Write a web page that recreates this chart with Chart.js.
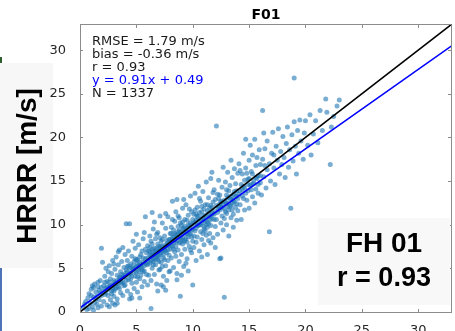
<!DOCTYPE html>
<html>
<head>
<meta charset="utf-8">
<title>F01 scatter</title>
<script src="https://cdn.jsdelivr.net/npm/chart.js@4.4.1/dist/chart.umd.min.js"></script>
<style>
    html, body { margin: 0; padding: 0; background: #fff; }
    #wrap { position: relative; width: 455px; height: 331px; overflow: hidden; }
    #scatterChart { position: absolute; left: 0; top: 0; }
</style>
</head>
<body>
<div id="wrap"><canvas id="scatterChart" width="456" height="331"></canvas></div>
<script>
// --- Data ---
const panelTitle = 'F01';
const yAxisLabel = 'HRRR [m/s]';
const badgeLines = ['FH 01', 'r = 0.93'];
const statLines = ['RMSE = 1.79 m/s', 'bias = -0.36 m/s', 'r = 0.93', 'y = 0.91x + 0.49', 'N = 1337'];
const axisMax = 33;
const tickValues = [0, 5, 10, 15, 20, 25, 30];
const fitSlope = 0.91;
const fitIntercept = 0.49;

const obsVsHrrr = [
    [0.3,0.5],[0.5,1.2],[0.6,0.3],[0.8,2.1],[0.9,1.0],[1.0,2.6],[1.1,0.6],[1.2,1.7],[1.3,3.2],[1.4,2.3],
    [1.5,0.9],[1.5,1.8],[1.6,2.9],[1.7,1.4],[1.8,3.6],[1.8,2.2],[1.9,0.7],[1.9,2.8],[0.7,1.6],[1.0,1.9],
    [1.2,2.8],[1.3,1.1],[1.6,3.4],[1.7,2.5],[0.4,0.9],[1.1,3.0],[1.4,1.5],[1.9,1.9],[0.8,0.4],[1.2,0.2],
    [1.6,0.5],
    [2.0,5.7],[1.9,7.3],[2.1,1.2],[2.1,3.0],[2.2,2.0],[2.2,4.1],[2.3,2.7],[2.4,0.8],[2.4,3.5],[2.5,1.9],
    [2.5,4.6],[2.6,2.9],[2.6,5.3],[2.7,1.4],[2.7,3.8],[2.8,2.4],[2.8,4.4],[2.9,3.1],[2.9,5.9],[3.0,1.8],
    [3.0,3.6],[3.1,2.6],[3.1,4.9],[3.2,3.2],[3.2,6.3],[3.3,1.5],[3.3,4.2],[3.4,2.9],[3.4,5.4],[3.5,3.7],
    [3.5,7.1],[3.6,2.2],[3.6,4.6],[3.7,3.3],[3.7,5.8],[3.8,4.0],[3.8,1.9],[3.9,5.1],[3.9,3.0],[4.0,6.6],
    [2.3,5.0],[2.6,0.6],[3.0,5.5],[3.4,6.9],[3.8,7.4],[2.9,1.0],[3.6,3.9],[2.2,3.4],[3.1,0.8],[3.3,1.0],
    [2.1,2.4],[2.3,2.2],[2.4,2.9],[2.5,2.6],[2.7,3.0],[2.8,2.1],[2.9,2.7],[3.0,3.1],[3.1,3.4],[3.2,2.8],
    [3.3,3.6],[3.4,3.3],[3.5,4.0],[3.6,3.5],[3.7,4.3],[3.8,3.4],[3.9,4.2],[2.6,3.4],[3.0,2.4],[3.5,2.7],
    [4.1,10.1],[4.4,10.1],[5.8,10.9],[4.0,3.1],[4.1,4.8],[4.2,2.4],[4.2,5.9],[4.3,3.7],[4.3,7.0],[4.4,4.4],
    [4.5,2.0],[4.5,5.5],[4.6,3.3],[4.6,6.4],[4.7,4.9],[4.7,8.1],[4.8,2.7],[4.8,5.8],[4.9,4.1],[4.9,7.3],
    [5.0,3.4],[5.0,5.2],[5.1,6.0],[5.1,2.3],[5.2,4.6],[5.2,7.7],[5.3,3.8],[5.3,5.7],[5.4,6.6],[5.4,4.2],
    [5.5,2.9],[5.5,5.1],[5.6,8.4],[5.6,6.2],[5.7,4.7],[5.7,3.5],[5.8,5.6],[5.8,7.2],[5.9,4.3],[5.9,6.8],
    [6.0,3.1],[6.0,5.4],[4.4,1.5],[5.0,8.9],[5.3,1.6],[4.6,5.0],[5.5,7.0],[4.9,6.1],[5.2,5.3],[4.3,5.3],
    [5.7,9.1],[4.0,4.4],[5.1,4.0],[4.6,1.6],
    [4.0,4.0],[4.1,3.6],[4.2,4.6],[4.3,4.2],[4.4,5.0],[4.5,4.4],[4.6,4.1],[4.7,5.3],[4.8,4.6],[4.9,5.0],
    [5.0,4.5],[5.1,5.5],[5.2,4.9],[5.3,5.1],[5.4,5.4],[5.5,4.8],[5.6,5.7],[5.7,5.3],[5.8,6.1],[5.9,5.5],
    [4.5,3.8],[5.0,6.0],[5.6,4.6],[4.2,5.2],[5.3,6.3],
    [6.3,0.4],[6.1,4.2],[6.1,7.0],[6.2,5.6],[6.2,8.7],[6.3,3.6],[6.3,6.4],[6.4,7.8],[6.4,5.0],[6.5,9.5],
    [6.5,6.1],[6.6,4.3],[6.6,7.3],[6.7,5.4],[6.7,8.4],[6.8,6.8],[6.8,3.2],[6.9,6.0],[6.9,9.1],[7.0,7.5],
    [7.0,4.8],[7.1,4.9],[7.1,6.6],[7.2,8.1],[7.2,5.7],[7.3,10.2],[7.3,7.0],[7.4,4.1],[7.4,6.2],[7.5,8.7],
    [7.5,7.4],[7.6,5.3],[7.6,9.6],[7.7,6.8],[7.7,3.6],[7.8,7.9],[7.8,5.9],[7.9,8.3],[7.9,6.5],[8.0,4.7],
    [8.0,9.0],[6.4,11.4],[6.9,2.4],[7.1,11.0],[7.4,2.9],[6.6,10.3],[7.8,10.9],[7.2,3.1],[6.2,6.9],[6.7,7.0],
    [7.0,6.3],[7.3,5.2],[7.6,7.7],[6.5,5.4],[7.9,4.6],[6.8,8.9],[7.5,6.0],[6.0,7.6],[7.1,8.5],[6.3,8.1],
    [7.6,11.3],[7.6,2.5],[6.6,6.6],[7.4,7.2],[6.9,7.8],
    [6.0,6.2],[6.1,5.8],[6.2,6.5],[6.3,5.9],[6.4,6.6],[6.5,6.9],[6.6,6.0],[6.7,6.3],[6.8,7.3],[6.9,6.5],
    [7.0,7.0],[7.1,7.3],[7.2,6.8],[7.3,7.6],[7.4,6.6],[7.5,7.1],[7.6,7.0],[7.7,7.6],[7.8,7.2],[7.9,7.7],
    [6.2,7.4],[6.5,5.8],[7.0,5.8],[7.3,8.3],[7.7,8.2],[6.8,6.2],[7.2,7.5],[6.4,7.2],
    [8.1,6.2],[8.1,9.7],[8.2,12.7],[8.2,7.5],[8.3,5.1],[8.3,8.6],[8.4,10.4],[8.4,6.9],[8.5,8.0],[8.5,11.5],
    [8.6,12.9],[8.6,4.4],[8.6,3.7],[8.7,9.2],[8.7,7.1],[8.8,10.8],[8.8,5.8],[8.9,1.8],[8.9,8.5],[9.0,6.6],
    [9.0,9.9],[9.1,11.9],[9.1,7.8],[9.2,5.2],[9.2,9.1],[9.3,10.6],[9.3,7.2],[9.4,8.4],[9.4,12.3],[9.5,6.1],
    [9.5,9.6],[9.6,11.1],[9.6,4.7],[9.7,8.9],[9.7,7.5],[9.8,10.2],[9.8,13.3],[9.9,6.8],[9.9,9.4],[10.0,3.1],
    [10.0,8.1],[8.3,9.4],[8.7,11.0],[9.0,8.3],[9.3,8.9],[9.6,10.0],[8.5,6.4],[8.9,10.2],[9.2,12.9],[9.8,7.1],
    [8.1,8.1],[9.5,8.0],[8.4,9.0],[9.1,9.5],[9.7,11.8],[8.8,7.9],[9.4,5.6],[9.9,11.5],[8.2,10.6],[9.0,4.2],
    [8.6,8.8],[9.2,8.1],[8.0,7.2],[9.6,9.2],[8.9,9.1],
    [8.0,8.3],[8.1,7.6],[8.2,8.5],[8.3,7.9],[8.4,8.3],[8.5,8.9],[8.6,8.2],[8.7,8.6],[8.8,9.3],[8.9,8.0],
    [9.0,8.9],[9.1,8.5],[9.2,9.6],[9.3,8.2],[9.4,9.3],[9.5,9.0],[9.6,8.6],[9.7,9.8],[9.8,9.0],[9.9,10.0],
    [8.3,7.2],[8.7,9.8],[9.1,10.3],[9.5,10.5],[9.9,8.6],[8.5,7.5],[9.3,9.8],[8.1,9.0],
    [10.1,11.2],[10.1,7.4],[10.2,9.3],[10.2,13.6],[10.3,5.9],[10.3,10.5],[10.4,12.0],[10.4,8.6],[10.5,9.9],[10.5,14.4],
    [10.6,7.0],[10.6,11.4],[10.7,10.0],[10.7,12.7],[10.8,8.3],[10.8,6.3],[10.9,11.0],[10.9,13.8],[11.0,9.5],[11.0,7.7],
    [11.1,12.3],[11.1,10.4],[11.2,14.9],[11.2,8.8],[11.3,11.6],[11.3,6.6],[11.4,10.1],[11.4,13.1],[11.5,9.0],[11.5,11.9],
    [11.6,7.9],[11.6,15.3],[11.7,16.0],[11.7,10.7],[11.8,12.6],[11.8,8.5],[11.9,11.2],[11.9,14.0],[12.0,9.8],[12.0,12.9],
    [12.1,21.3],[10.3,8.0],[10.7,9.2],[11.0,11.8],[11.3,9.7],[11.6,12.2],[10.4,10.9],[10.9,9.0],[11.5,10.5],[12.0,7.4],
    [10.2,11.7],[10.6,13.0],[11.2,10.0],[11.8,13.7],[10.8,12.1],[11.4,8.2],[10.5,10.4],[11.1,9.3],[11.7,11.4],[10.0,10.6],
    [10.0,9.5],[10.1,10.1],[10.2,10.3],[10.3,9.6],[10.4,9.9],[10.5,11.0],[10.6,10.0],[10.7,10.6],[10.8,10.2],[10.9,10.7],
    [11.0,10.5],[11.1,11.1],[11.2,10.8],[11.3,10.3],[11.4,11.3],[11.5,10.9],[11.6,11.0],[11.7,12.0],[11.8,11.3],[11.9,10.6],
    [10.3,11.2],[10.8,11.5],[11.3,12.3],[11.6,9.9],[10.1,8.7],[11.0,9.8],
    [12.1,10.6],[12.2,13.5],[12.2,8.9],[12.3,11.8],[12.3,15.1],[12.4,6.1],[12.4,12.4],[12.5,6.2],[12.5,10.2],[12.6,14.3],
    [12.6,11.0],[12.7,16.6],[12.7,9.4],[12.8,1.7],[12.8,12.8],[12.9,11.5],[12.9,14.9],[13.0,10.0],[13.0,13.4],[13.1,12.1],
    [13.1,16.0],[13.2,8.7],[13.2,11.7],[13.3,14.5],[13.3,13.0],[13.4,10.8],[13.4,17.4],[13.5,12.5],[13.5,15.4],[13.6,11.2],
    [13.6,9.7],[13.7,13.8],[13.7,16.4],[13.8,12.0],[13.8,14.7],[13.9,10.5],[13.9,13.3],[14.0,15.9],[14.0,11.6],[12.3,13.0],
    [12.8,10.7],[13.2,13.9],[13.6,12.8],[12.5,12.0],[13.0,11.3],[13.9,12.4],[12.6,12.6],[13.4,12.2],
    [12.0,11.6],[12.1,12.2],[12.2,11.4],[12.3,12.1],[12.4,11.7],[12.5,12.7],[12.6,12.0],[12.7,12.3],[12.8,11.8],[12.9,12.6],
    [13.0,12.4],[13.1,13.1],[13.2,12.5],[13.3,12.1],[13.4,13.3],[13.5,12.9],[13.6,13.5],[13.7,12.6],[13.8,13.2],[13.9,13.9],
    [12.4,13.4],[13.0,14.0],[13.5,11.7],
    [14.1,13.5],[14.1,17.0],[14.2,12.3],[14.3,14.6],[14.3,10.6],[14.4,15.8],[14.5,13.0],[14.5,18.2],[14.6,11.7],[14.6,14.2],
    [14.7,19.8],[14.7,16.5],[14.8,12.8],[14.9,15.2],[14.9,13.9],[15.0,17.4],[15.0,11.9],[15.1,19.1],[15.1,14.5],[15.2,16.1],
    [15.3,13.2],[15.3,18.0],[15.4,15.0],[15.5,19.8],[15.5,12.5],[15.6,16.8],[15.6,14.1],[15.7,17.7],[15.8,13.6],[15.8,15.6],
    [15.9,18.6],[16.0,14.8],[16.0,16.9],[14.4,14.0],[15.2,14.6],[14.8,15.9],[15.7,15.3],[14.2,16.2],
    [14.0,13.0],[14.2,13.9],[14.4,13.3],[14.5,14.4],[14.7,13.6],[14.9,14.6],[15.0,15.3],[15.2,14.0],[15.4,14.7],[15.6,15.4],
    [15.8,14.6],[16.0,15.6],[14.6,15.1],[15.3,15.8],
    [16.1,13.4],[16.2,23.1],[16.2,17.5],[16.3,20.5],[16.3,15.5],[16.4,18.7],[16.5,14.2],[16.6,16.3],[16.6,19.6],[16.8,9.2],
    [16.8,17.0],[16.9,15.0],[17.0,18.2],[17.1,20.6],[17.2,16.5],[17.3,14.6],[17.4,19.0],[17.5,17.4],[17.6,21.0],[17.7,15.8],
    [17.8,18.4],[17.9,16.9],[18.0,20.1],[16.4,16.8],[17.2,18.0],
    [18.1,17.7],[18.2,15.4],[18.3,19.3],[18.4,21.2],[18.5,16.6],[18.6,18.6],[18.7,11.9],[18.8,20.3],[18.9,17.3],[19.0,26.8],
    [19.0,21.8],[19.1,19.0],[19.2,15.8],[19.3,20.8],[19.4,18.2],[19.5,22.0],[19.6,19.6],[19.8,17.5],[20.0,21.9],[19.9,20.5],
    [20.2,19.1],[20.4,22.6],[20.5,18.0],[20.7,20.4],[20.9,21.9],[21.1,19.4],[21.3,23.1],[21.5,20.8],[21.8,24.4],[21.9,22.9],
    [22.2,16.9],[22.3,21.2],[22.5,22.4],[22.8,23.6],[23.0,24.3]
];

// --- Plugins ---
const slideDecor = {
    id: 'slideDecor',
    beforeDraw(chart) {
        const ctx = chart.ctx;
        ctx.save();
        ctx.fillStyle = '#fff';
        ctx.fillRect(0, 0, chart.width, chart.height);
        // grey label panel on the left
        ctx.fillStyle = '#f7f7f7';
        ctx.fillRect(0, 63, 53, 205);
        // slide edge marks
        ctx.fillStyle = '#2f5f2f';
        ctx.fillRect(0, 57, 2, 6);
        ctx.fillStyle = '#4f74b9';
        ctx.fillRect(0, 268, 2, 63);
        ctx.restore();
    },
    afterDraw(chart) {
        const ctx = chart.ctx;
        const a = chart.chartArea;
        ctx.save();
        // y axis label
        ctx.translate(28, 166);
        ctx.rotate(-Math.PI / 2);
        ctx.fillStyle = '#000';
        ctx.font = 'bold 28px "Liberation Sans", Arial, sans-serif';
        ctx.textAlign = 'center';
        ctx.textBaseline = 'middle';
        ctx.fillText(yAxisLabel, 0, 0);
        ctx.restore();

        ctx.save();
        // panel title
        ctx.fillStyle = '#000';
        ctx.font = 'bold 14px "DejaVu Sans", sans-serif';
        ctx.textAlign = 'center';
        ctx.textBaseline = 'middle';
        ctx.fillText(panelTitle, (a.left + a.right) / 2, 15);

        // stats text
        ctx.font = '13px "DejaVu Sans", sans-serif';
        ctx.textAlign = 'left';
        statLines.forEach((t, i) => {
            ctx.fillStyle = i === 3 ? '#0000ff' : '#1a1a1a';
            ctx.fillText(t, 92, 42 + i * 12.9);
        });

        // forecast hour badge
        ctx.fillStyle = '#f8f8f8';
        ctx.fillRect(318, 218, 132, 87);
        ctx.fillStyle = '#000';
        ctx.textAlign = 'center';
        ctx.font = 'bold 28px "Liberation Sans", Arial, sans-serif';
        ctx.fillText(badgeLines[0], 384, 244);
        ctx.font = 'bold 27px "Liberation Sans", Arial, sans-serif';
        ctx.fillText(badgeLines[1], 384, 279);
        ctx.restore();
    }
};

// box frame with inward ticks, matlab style
const boxFrame = {
    id: 'boxFrame',
    afterDatasetsDraw(chart) {
        const { ctx, chartArea: a, scales: { x, y } } = chart;
        ctx.save();
        ctx.strokeStyle = '#8c8c8c';
        ctx.lineWidth = 1;
        ctx.beginPath();
        ctx.rect(a.left + 0.5, a.top + 0.5, a.right - a.left - 1, a.bottom - a.top);
        tickValues.forEach(v => {
            const px = Math.round(x.getPixelForValue(v)) + 0.5;
            const py = Math.round(y.getPixelForValue(v)) + 0.5;
            ctx.moveTo(px, a.bottom); ctx.lineTo(px, a.bottom - 3);
            ctx.moveTo(px, a.top); ctx.lineTo(px, a.top + 4);
            ctx.moveTo(a.left, py); ctx.lineTo(a.left + 3, py);
            ctx.moveTo(a.right, py); ctx.lineTo(a.right - 4, py);
        });
        ctx.stroke();
        ctx.restore();
    }
};

// --- Chart ---
const ctx = document.getElementById('scatterChart').getContext('2d');
const tickFont = { family: '"DejaVu Sans", sans-serif', size: 13 };

new Chart(ctx, {
    type: 'scatter',
    data: {
        datasets: [{
            label: 'points',
            data: obsVsHrrr.map(p => ({ x: p[0], y: p[1] })),
            backgroundColor: 'rgba(31, 119, 180, 0.6)',
            borderWidth: 0,
            pointRadius: 2.5,
            order: 3
        }, {
            type: 'line',
            label: '1:1',
            data: [{ x: 0, y: 0 }, { x: axisMax, y: axisMax }],
            borderColor: '#000',
            borderWidth: 1.6,
            pointRadius: 0,
            order: 2
        }, {
            type: 'line',
            label: 'fit',
            data: [0, axisMax].map(v => ({ x: v, y: fitSlope * v + fitIntercept })),
            borderColor: '#0000ff',
            borderWidth: 1.6,
            pointRadius: 0,
            order: 1
        }]
    },
    options: {
        responsive: false,
        devicePixelRatio: 1,
        animation: false,
        layout: { padding: { top: 24, left: 0, right: 0, bottom: 0 } },
        plugins: { legend: { display: false }, tooltip: { enabled: false } },
        scales: {
            x: {
                type: 'linear',
                min: 0,
                max: axisMax,
                afterBuildTicks: s => { s.ticks = tickValues.map(v => ({ value: v })); },
                afterFit: s => { s.height = 19; },
                grid: { display: false },
                border: { display: false },
                ticks: { font: tickFont, color: '#262626', padding: 3, maxRotation: 0 }
            },
            y: {
                type: 'linear',
                min: 0,
                max: axisMax,
                afterBuildTicks: s => { s.ticks = tickValues.map(v => ({ value: v })); },
                afterFit: s => { s.width = 80; },
                grid: { display: false },
                border: { display: false },
                ticks: { font: tickFont, color: '#262626', padding: 6 }
            }
        }
    },
    plugins: [slideDecor, boxFrame]
});
</script>
</body>
</html>
